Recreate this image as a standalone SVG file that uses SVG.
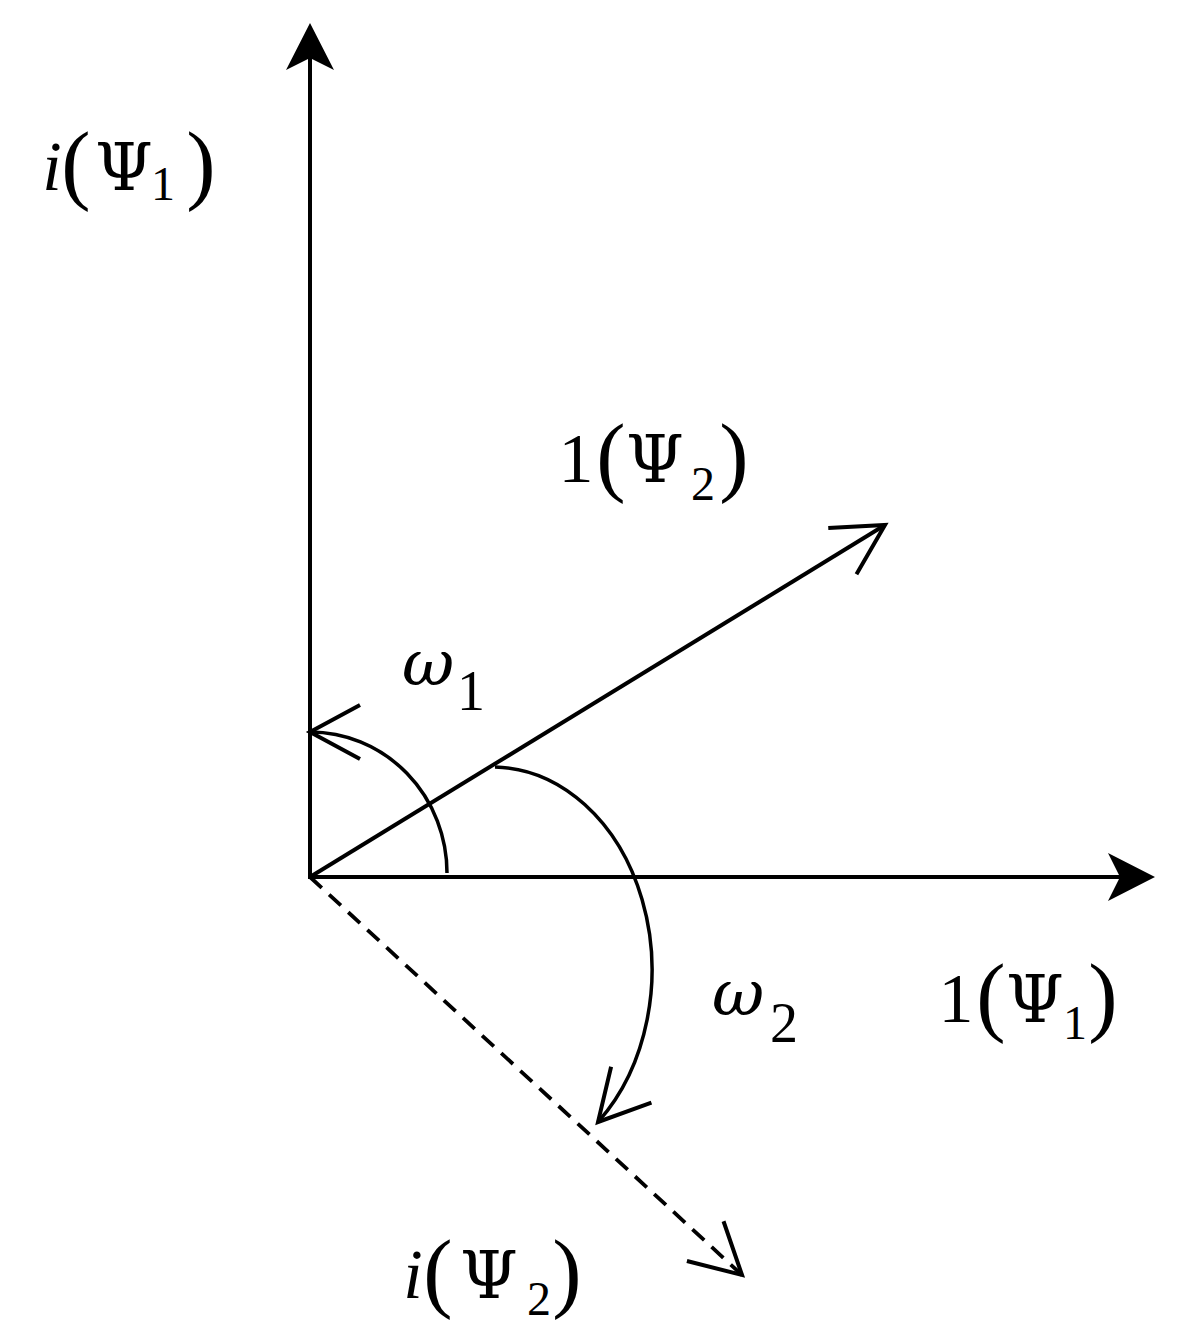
<svg xmlns="http://www.w3.org/2000/svg" width="1185" height="1342" viewBox="0 0 1185 1342">
<style>
.ln{stroke:#000;stroke-width:4;fill:none}
.arc{stroke:#000;stroke-width:3.5;fill:none}
.dash{stroke:#000;stroke-width:3.8;fill:none;stroke-dasharray:16 10}
.lbl{font-family:"Liberation Serif","Times New Roman",serif;font-size:70px;fill:#000}
.par{font-size:88px}
.sub{font-size:48px}
.psi{font-family:"DejaVu Serif",serif;font-size:66px}
.om{font-family:"Liberation Serif","Times New Roman",serif;font-size:56px;fill:#000}
.w{font-family:"DejaVu Serif",serif;font-style:italic;font-size:64px}
</style>
<defs>
<marker id="filled" markerUnits="userSpaceOnUse" orient="auto" overflow="visible" markerWidth="1" markerHeight="1" refX="0" refY="0">
<path d="M10,0 L-37,-24 L-25,0 L-37,24 Z" fill="#000"/>
</marker>
<marker id="open" markerUnits="userSpaceOnUse" orient="auto" overflow="visible" markerWidth="1" markerHeight="1" refX="0" refY="0">
<path d="M-50,-27 L0,0 L-50,27" fill="none" stroke="#000" stroke-width="4" stroke-linejoin="miter"/>
</marker>
</defs>
<g id="connectors">
<line id="axis-imag1" class="ln" x1="310" y1="879" x2="310" y2="33" marker-end="url(#filled)"/>
<line id="axis-real1" class="ln" x1="308" y1="877" x2="1145" y2="877" marker-end="url(#filled)"/>
<line id="axis-real2" class="ln" x1="310" y1="877" x2="885" y2="525" marker-end="url(#open)"/>
<line id="axis-imag2" class="dash" x1="310" y1="877" x2="742" y2="1275" marker-end="url(#open)"/>
<path id="arc-w1" class="arc" d="M447,873 A137,141 0 0 0 310,732" marker-end="url(#open)"/>
<path id="arc-w2" class="arc" d="M495,767 A160,203 0 0 1 598,1122" marker-end="url(#open)"/>
</g>
<g id="label-iPsi1">
<text class="lbl" text-anchor="middle"><tspan x="52" y="190" font-style="italic">i</tspan><tspan x="76" y="193" class="par">(</tspan><tspan x="124" y="190" class="psi">Ψ</tspan><tspan x="163" y="200" class="sub">1</tspan><tspan x="201" y="193" class="par">)</tspan></text>
</g>
<g id="label-1Psi2">
<text class="lbl" text-anchor="middle"><tspan x="576" y="482">1</tspan><tspan x="611" y="485" class="par">(</tspan><tspan x="655" y="482" class="psi">Ψ</tspan><tspan x="703" y="500" class="sub">2</tspan><tspan x="734" y="485" class="par">)</tspan></text>
</g>
<g id="label-1Psi1">
<text class="lbl" text-anchor="middle"><tspan x="956" y="1022">1</tspan><tspan x="991" y="1025" class="par">(</tspan><tspan x="1035" y="1022" class="psi">Ψ</tspan><tspan x="1075" y="1039" class="sub">1</tspan><tspan x="1103" y="1025" class="par">)</tspan></text>
</g>
<g id="label-iPsi2">
<text class="lbl" text-anchor="middle"><tspan x="413" y="1298" font-style="italic">i</tspan><tspan x="438" y="1301" class="par">(</tspan><tspan x="489" y="1298" class="psi">Ψ</tspan><tspan x="539" y="1315" class="sub">2</tspan><tspan x="567" y="1301" class="par">)</tspan></text>
</g>
<g id="label-w1">
<text class="om" text-anchor="middle"><tspan x="428" y="685" class="w">ω</tspan><tspan x="471" y="710">1</tspan></text>
</g>
<g id="label-w2">
<text class="om" text-anchor="middle"><tspan x="738" y="1015" class="w">ω</tspan><tspan x="784" y="1042">2</tspan></text>
</g>
</svg>
